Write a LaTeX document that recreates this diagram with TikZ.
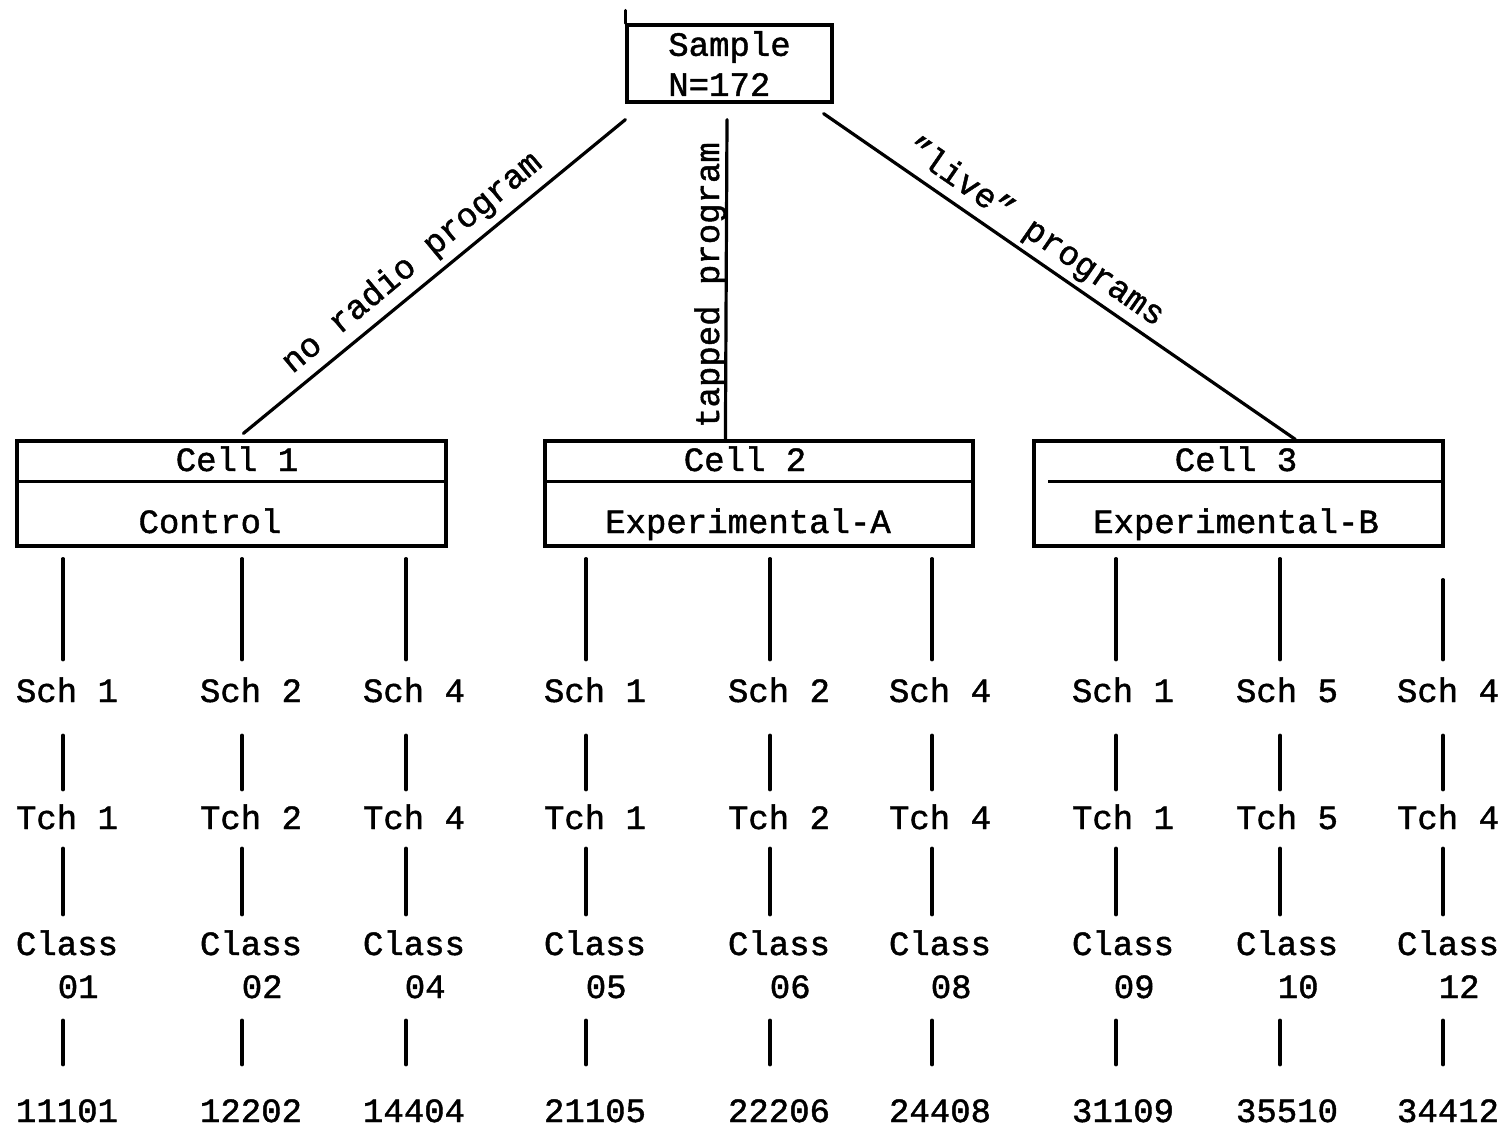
\documentclass[tikz,border=0pt]{standalone}
\usepackage{fontspec}
\setmainfont{Liberation Mono}[BoldFont={Liberation Mono}, BoldFeatures={FakeBold=1.3}]
\usetikzlibrary{calc}
\begin{document}
\begin{tikzpicture}[x=1pt,y=-1pt,
  every node/.style={font=\fontsize{34}{40}\selectfont\bfseries, inner sep=0pt},
  ln/.style={line width=3.2pt, line cap=round},
  boxst/.style={draw, line width=3.2pt, inner sep=0pt},
  txt/.style={anchor=base, text height=22pt, text depth=0pt, inner sep=0pt}]
\useasboundingbox[fill=white] (0,0) rectangle (1503,1128);

% top box
\node[boxst, minimum width=205pt, minimum height=77pt, align=left] (sample) at (729.5,63.5) {Sample\\N=172};
\draw[ln] (sample.north west) -- ++(0,-13);

% cells
\node[boxst, minimum width=429pt, minimum height=105pt] (cell1) at (231.5,493.5) {};
\node[boxst, minimum width=428pt, minimum height=105pt] (cell2) at (759,493.5) {};
\node[boxst, minimum width=409pt, minimum height=105pt] (cell3) at (1238.5,493.5) {};
\draw[line width=3.2pt] ($(cell1.north west)+(0,42)$) -- ($(cell1.north east)+(0,42)$);
\draw[line width=3.2pt] ($(cell2.north west)+(0,42)$) -- ($(cell2.north east)+(0,42)$);
\draw[line width=3.2pt] ($(cell3.north west)+(16,42)$) -- ($(cell3.north east)+(0,42)$);

\node[txt] (c1a) at (237,471) {Cell 1};
\node[txt] (c1b) at (210,533) {Control};
\node[txt] (c2a) at (745,471) {Cell 2};
\node[txt] (c2b) at (748,533) {Experimental-A};
\node[txt] (c3a) at (1236,471) {Cell 3};
\node[txt] (c3b) at (1236,533) {Experimental-B};

% branches
\draw[ln] ($(sample.south west)+(0,16)$) -- ($(cell1.north west)+(228,-6)$);
\draw[ln] ($(sample.south)+(-2.5,16)$) -- ($(cell2.north west)+(182,0)$);
\draw[ln] ($(sample.south east)+(-10,10)$) -- ($(cell3.north west)+(263,0)$);

\node[txt, rotate=39.7] (lab1) at (418,270) {no radio program};
\node[txt, rotate=90] (lab2) at (719,285) {tapped program};
\node[txt, rotate=-34.6] (lab3) at (1030,240) {"live" programs};

% columns
\foreach \i/\lx/\tx/\sn/\tn/\cn/\kn/\ce/\st in {
1/63/67/1/1/01/11101/cell1/11,
2/242/251/2/2/02/12202/cell1/11,
3/406/414/4/4/04/14404/cell1/11,
4/586/595/1/1/05/21105/cell2/11,
5/770/779/2/2/06/22206/cell2/11,
6/932/940/4/4/08/24408/cell2/11,
7/1116/1123/1/1/09/31109/cell3/11,
8/1280/1287/5/5/10/35510/cell3/11,
9/1443/1448/4/4/12/34412/cell3/32}{
  \coordinate (l\i) at (\lx,0);
  \node[txt] (sch\i) at (\tx,702) {Sch \sn};
  \node[txt] (tch\i) at (\tx,829) {Tch \tn};
  \node[txt] (cls\i) at (\tx,955) {Class};
  \node[txt, anchor=base west] (num\i) at ($(cls\i.base west)+(1,43)$) {\hphantom{Cl}\cn};
  \node[txt] (code\i) at (\tx,1122) {\kn};
  \draw[ln] ($(\ce.south -| l\i)+(0,\st)$) -- ($(sch\i.north -| l\i)+(0,-20)$);
  \draw[ln] ($(sch\i.south -| l\i)+(0,33)$) -- ($(tch\i.north -| l\i)+(0,-17)$);
  \draw[ln] ($(tch\i.south -| l\i)+(0,19)$) -- ($(cls\i.north -| l\i)+(0,-18)$);
  \draw[ln] ($(num\i.south -| l\i)+(0,22)$) -- ($(code\i.north -| l\i)+(0,-35)$);
}
\end{tikzpicture}
\end{document}
